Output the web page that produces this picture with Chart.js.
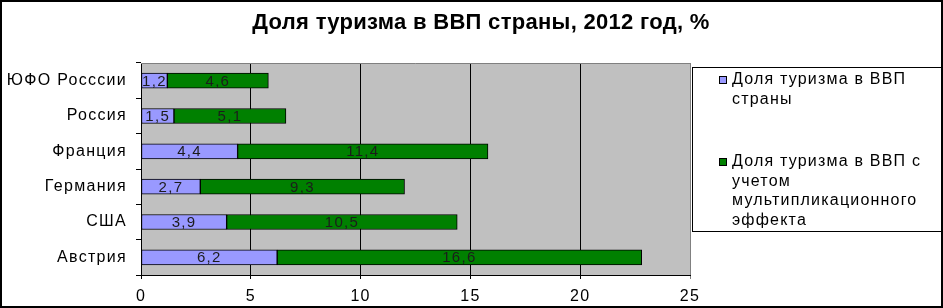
<!DOCTYPE html>
<html>
<head>
<meta charset="utf-8">
<script src="https://cdn.jsdelivr.net/npm/chart.js@4"></script>
<style>
html, body { margin: 0; padding: 0; background: #fff; }
</style>
</head>
<body>
<canvas id="tourismChart" width="943" height="308"></canvas>
<script>
const categories = ['ЮФО Росссии', 'Россия', 'Франция', 'Германия', 'США', 'Австрия'];
const shareGdp = [1.2, 1.5, 4.4, 2.7, 3.9, 6.2];
const shareMultiplier = [4.6, 5.1, 11.4, 9.3, 10.5, 16.6];
const xTicks = [0, 5, 10, 15, 20, 25];
const seriesNames = [
    'Доля туризма в ВВП страны',
    'Доля туризма в ВВП с учетом мультипликационного эффекта'
];
// legend text is wrapped by hand, like the original
const legendLines = [
    ['Доля туризма в ВВП', 'страны'],
    ['Доля туризма в ВВП с', 'учетом', 'мультипликационного', 'эффекта']
];
const titleText = 'Доля туризма в ВВП страны, 2012 год, %';

const FONT = '"Liberation Sans", Arial, sans-serif';
const SPACING = '1.3px';
const colors = ['#9999ff', '#008000'];

const framePlugin = {
    id: 'frame',
    beforeDraw(chart) {
        const c = chart.ctx;
        const a = chart.chartArea;
        c.save();
        c.fillStyle = '#fff';
        c.fillRect(0, 0, chart.width, chart.height);
        c.fillStyle = '#c0c0c0';
        c.fillRect(a.left, a.top, a.right - a.left, a.bottom - a.top);
        c.restore();
        // wide letter spacing for axis text, like the old office chart
        c.letterSpacing = SPACING;
    },
    afterDraw(chart) {
        const c = chart.ctx;
        const a = chart.chartArea;
        c.save();
        // top edge of plot
        c.strokeStyle = '#808080';
        c.lineWidth = 1;
        c.beginPath();
        c.moveTo(a.left, a.top + 0.5);
        c.lineTo(a.right, a.top + 0.5);
        c.stroke();

        // title
        c.letterSpacing = '0.3px';
        c.fillStyle = '#000';
        c.font = 'bold 22px ' + FONT;
        c.textAlign = 'center';
        c.textBaseline = 'middle';
        c.fillText(titleText, 481, 23);

        // legend
        c.letterSpacing = '1.2px';
        const lx = 692, ly = 67;
        c.fillStyle = '#fff';
        c.fillRect(lx, ly, chart.width - lx + 5, 164);
        c.strokeStyle = '#000';
        c.strokeRect(lx + 0.5, ly + 0.5, chart.width - lx + 5, 164);
        c.font = '16px ' + FONT;
        c.textAlign = 'left';
        let startY = [80, 162];
        chart.data.datasets.forEach((ds, i) => {
            c.fillStyle = ds.backgroundColor;
            c.fillRect(719, startY[i] - 4, 8, 8);
            c.strokeStyle = '#000';
            c.strokeRect(719.5, startY[i] - 3.5, 7, 7);
            c.fillStyle = '#000';
            legendLines[i].forEach((line, j) => {
                c.fillText(line, 732, startY[i] + j * 19.5);
            });
        });

        // outer border
        c.strokeStyle = '#000';
        c.lineWidth = 2;
        c.strokeRect(1, 1, chart.width - 2, chart.height - 2);
        c.restore();
    }
};

const barLabels = {
    id: 'barLabels',
    afterDatasetsDraw(chart) {
        const c = chart.ctx;
        c.save();
        c.letterSpacing = SPACING;
        c.font = '15px ' + FONT;
        c.fillStyle = '#1c1c1c';
        c.textAlign = 'center';
        c.textBaseline = 'middle';
        chart.data.datasets.forEach((ds, i) => {
            chart.getDatasetMeta(i).data.forEach((bar, j) => {
                const p = bar.getProps(['x', 'y', 'base'], true);
                let txt = String(ds.data[j]).replace('.', ',');
                c.fillText(txt, (p.x + p.base) / 2, p.y + 1);
            });
        });
        c.restore();
    }
};

const ctx = document.getElementById('tourismChart').getContext('2d');
const chart = new Chart(ctx, {
    type: 'bar',
    data: {
        labels: categories,
        datasets: [{
            label: seriesNames[0],
            data: shareGdp,
            backgroundColor: colors[0],
            borderColor: '#000',
            borderWidth: 1,
            borderSkipped: false,
            barThickness: 15
        }, {
            label: seriesNames[1],
            data: shareMultiplier,
            backgroundColor: colors[1],
            borderColor: '#000',
            borderWidth: 1,
            borderSkipped: false,
            barThickness: 15
        }]
    },
    options: {
        indexAxis: 'y',
        responsive: false,
        animation: false,
        layout: { padding: { top: 63, right: 253, bottom: 0, left: 0 } },
        plugins: {
            legend: { display: false },
            title: { display: false },
            tooltip: { enabled: false }
        },
        scales: {
            x: {
                stacked: true,
                min: xTicks[0],
                max: xTicks[xTicks.length - 1],
                afterBuildTicks(scale) {
                    scale.ticks = xTicks.map(v => ({ value: v }));
                },
                afterFit(scale) { scale.height = 33; },
                ticks: { color: '#000', font: { size: 16, family: FONT }, padding: 8 },
                grid: {
                    color: c => c.tick && c.tick.value === 25 ? '#808080' : '#000',
                    tickLength: 4
                },
                border: { color: '#000' }
            },
            y: {
                stacked: true,
                afterFit(scale) { scale.width = 141; },
                ticks: { color: '#000', font: { size: 16, family: FONT }, padding: 9 },
                grid: { offset: true, drawOnChartArea: false, color: '#000', tickLength: 5 },
                border: { color: '#000' }
            }
        }
    },
    plugins: [framePlugin, barLabels]
});
</script>
</body>
</html>
